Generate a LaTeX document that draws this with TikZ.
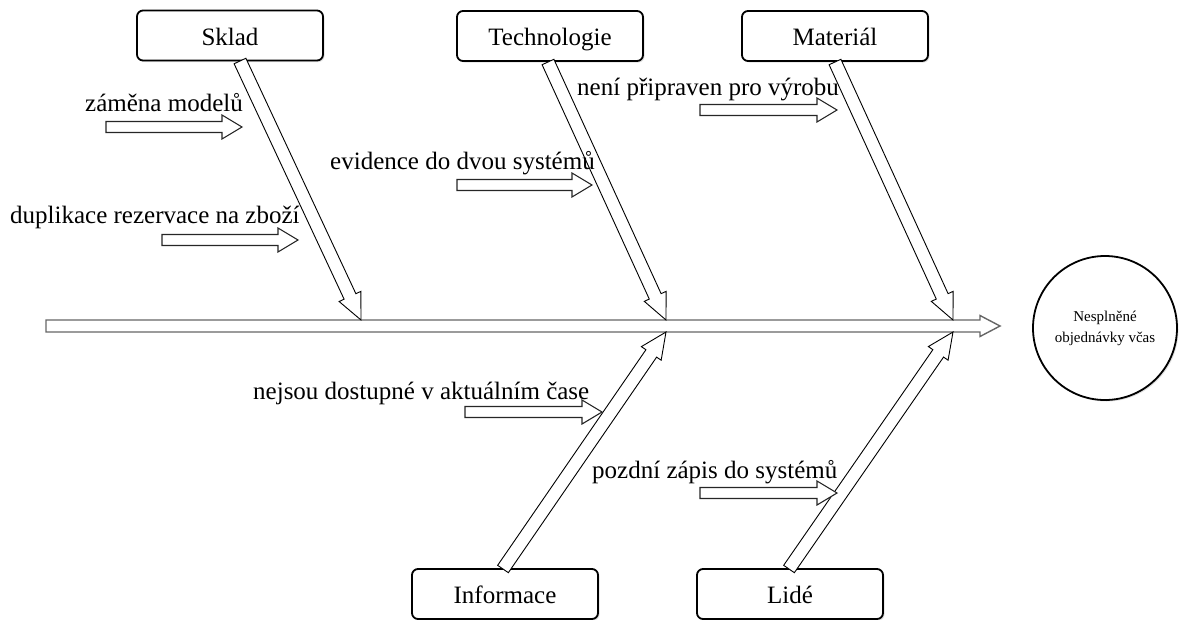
\documentclass[tikz,border=0pt]{standalone}
\usepackage{fontspec}
\setmainfont{Liberation Serif}
\usetikzlibrary{calc,shadows}
% #1 style, #2 from, #3 to, #4 half body width, #5 half head width, #6 head length
\newcommand{\blockarrow}[6][]{%
  \path ($(#3)!#6!(#2)$) coordinate (hb);
  \draw[#1] ($(#2)!#4!90:(#3)$) -- ($(hb)!#4!90:(#3)$) -- ($(hb)!#5!90:(#3)$) -- (#3)
    -- ($(hb)!#5!-90:(#3)$) -- ($(hb)!#4!-90:(#3)$) -- ($(#2)!#4!-90:(#3)$) -- cycle;
}
\begin{document}
\begin{tikzpicture}[x=1pt,y=-1pt,
  cat/.style={draw, rounded corners=6pt, line width=1.8pt, minimum width=186pt,
    minimum height=50pt, fill=white, font=\fontsize{25}{29}\selectfont,
    text height=19pt, text depth=0pt,
    drop shadow={shadow xshift=1.5pt,shadow yshift=-1.5pt,opacity=0.25}},
  lbl/.style={anchor=base west, inner sep=0pt, font=\fontsize{25}{29}\selectfont},
  spinestyle/.style={draw=black!60, line width=1.4pt, fill=white, line join=miter},
  bonestyle/.style={draw=black, line width=0.9pt, fill=white, line join=miter},
  smallarr/.style={draw=black!85, line width=1.1pt, fill=white, line join=miter}]
\useasboundingbox (0,0) rectangle (1179,619);

% category boxes
\node[cat] (sklad) at (230,35.5) {Sklad};
\node[cat] (tech) at (550,36) {Technologie};
\node[cat] (mat) at (835,36) {Materiál};
\node[cat] (info) at (505,594) {Informace};
\node[cat] (lide) at (790,594) {Lidé};

% effect
\node[circle, draw, fill=white, line width=1.8pt, minimum size=144pt, align=center,
  font=\fontsize{15}{21}\selectfont,
  drop shadow={shadow xshift=1.5pt,shadow yshift=-1.5pt,opacity=0.25}]
  (effect) at (1105,328) {Nesplněné\\objednávky včas};

% spine
\coordinate (sp0) at (46,326);
\coordinate (sp1) at (1000,326);
\blockarrow[spinestyle]{sp0}{sp1}{6pt}{10.5pt}{20pt}

% bones
\coordinate (b1s) at (240,61);  \coordinate (b1t) at (361,320);
\coordinate (b2s) at (548,62);  \coordinate (b2t) at (666,320);
\coordinate (b3s) at (835,62);  \coordinate (b3t) at (953,320);
\coordinate (b4s) at (503,569); \coordinate (b4t) at (666,332);
\coordinate (b5s) at (789,569); \coordinate (b5t) at (953,332);
\blockarrow[bonestyle]{b1s}{b1t}{6.5pt}{12pt}{26pt}
\blockarrow[bonestyle]{b2s}{b2t}{6.5pt}{12pt}{26pt}
\blockarrow[bonestyle]{b3s}{b3t}{6.5pt}{12pt}{26pt}
\blockarrow[bonestyle]{b4s}{b4t}{6.5pt}{12pt}{26pt}
\blockarrow[bonestyle]{b5s}{b5t}{6.5pt}{12pt}{26pt}

% cause labels
\node[lbl] (l1) at (85,111) {záměna modelů};
\node[lbl] (l2) at (10,223) {duplikace rezervace na zboží};
\node[lbl] (l3) at (330,169) {evidence do dvou systémů};
\node[lbl] (l4) at (577,95) {není připraven pro výrobu};
\node[lbl] (l5) at (253,399) {nejsou dostupné v aktuálním čase};
\node[lbl] (l6) at (592,478) {pozdní zápis do systémů};

% small cause arrows
\coordinate (a1s) at (106,127); \coordinate (a1t) at (242,127);
\coordinate (a2s) at (162,240); \coordinate (a2t) at (298,240);
\coordinate (a3s) at (457,185); \coordinate (a3t) at (592,185);
\coordinate (a4s) at (700,110); \coordinate (a4t) at (837,110);
\coordinate (a5s) at (465,412); \coordinate (a5t) at (602,412);
\coordinate (a6s) at (700,493); \coordinate (a6t) at (837,493);
\blockarrow[smallarr]{a1s}{a1t}{5.5pt}{12pt}{20pt}
\blockarrow[smallarr]{a2s}{a2t}{5.5pt}{12pt}{20pt}
\blockarrow[smallarr]{a3s}{a3t}{5.5pt}{12pt}{20pt}
\blockarrow[smallarr]{a4s}{a4t}{5.5pt}{12pt}{20pt}
\blockarrow[smallarr]{a5s}{a5t}{5.5pt}{12pt}{20pt}
\blockarrow[smallarr]{a6s}{a6t}{5.5pt}{12pt}{20pt}
\end{tikzpicture}
\end{document}
